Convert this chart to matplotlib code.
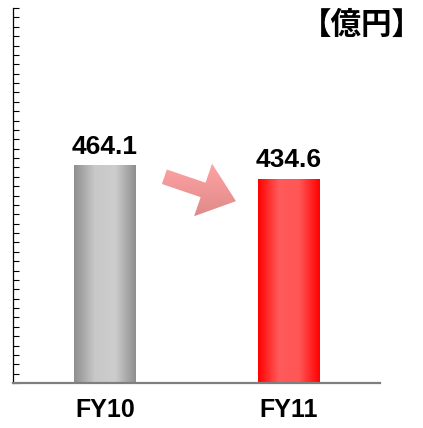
import numpy as np
import matplotlib
matplotlib.use("Agg")
import matplotlib.pyplot as plt
from matplotlib.colors import LinearSegmentedColormap
from matplotlib.patches import FancyArrowPatch

categories = ["FY10", "FY11"]
values = [464.1, 434.6]
value_labels = ["464.1", "434.6"]
unit_label = "【億円】"

BAR_CMAPS = [
    LinearSegmentedColormap.from_list("gray_bar", ["#8e8e8e", "#c8c8c8", "#cdcdcd", "#8e8e8e"]),
    LinearSegmentedColormap.from_list("red_bar", ["#ff0000", "#ff5a5a", "#ff5656", "#ff0000"]),
]
ARROW_CMAP = LinearSegmentedColormap.from_list("arrow", ["#ffa4a4", "#de8888"])


def fill_gradient(ax, patch, cmap, extent, vertical=False):
    grad = np.linspace(0, 1, 256).reshape(1, -1)
    if vertical:
        grad = grad.T
    im = ax.imshow(grad, cmap=cmap, aspect="auto", extent=extent,
                   interpolation="bicubic", zorder=2)
    im.set_clip_path(patch)
    patch.set_alpha(0)


def main():
    fig = plt.figure(figsize=(4.23, 4.28), dpi=100)
    ax = fig.add_axes([13 / 423, 45 / 428, 367 / 423, 375 / 428])

    x = np.arange(len(categories))
    bars = ax.bar(x, values, width=0.335, zorder=2)
    for rect, cmap in zip(bars, BAR_CMAPS):
        x0, w, h = rect.get_x(), rect.get_width(), rect.get_height()
        fill_gradient(ax, rect, cmap, (x0, x0 + w, 0, h))

    ax.set_yticks(np.arange(0, 801, 20))
    ax.tick_params(axis="y", direction="in", length=4, width=0.8, labelleft=False)
    ax.tick_params(axis="x", length=0, pad=11)
    ax.set_xticks(x)
    ax.set_xticklabels(categories, fontsize=18, fontweight="bold", family="Liberation Sans")

    for side in ["top", "right"]:
        ax.spines[side].set_visible(False)
    ax.spines["left"].set_color("black")
    ax.spines["left"].set_linewidth(0.9)
    ax.spines["bottom"].set_color("#7f7f7f")
    ax.spines["bottom"].set_linewidth(1.6)
    ax.spines["bottom"].set_zorder(3)

    for xi, v, lab in zip(x, values, value_labels):
        ax.annotate(lab, (xi, v), xytext=(0, 5), textcoords="offset points",
                    ha="center", va="bottom", fontsize=19, fontweight="bold",
                    family="Liberation Sans")

    # arrow from FY10 towards FY11, light on top, darker below
    arrow = FancyArrowPatch((0.325, 440), (0.715, 388),
                            arrowstyle="simple,head_length=2.5,head_width=4,tail_width=1.1",
                            mutation_scale=10, shrinkA=0, shrinkB=0,
                            color="#f29a9a", zorder=2)
    ax.add_patch(arrow)
    fill_gradient(ax, arrow, ARROW_CMAP, (0.3, 0.75, 350, 470), vertical=True)
    ax.set_xlim(-0.5, 1.5)
    ax.set_ylim(0, 800)

    fig.text(422.5 / 423, 1 - 25 / 428, unit_label, ha="right", va="center",
             fontsize=22, fontweight="bold", family=["Noto Sans CJK JP", "DejaVu Sans"])

    fig.savefig("out.png", dpi=100)


if __name__ == "__main__":
    main()
